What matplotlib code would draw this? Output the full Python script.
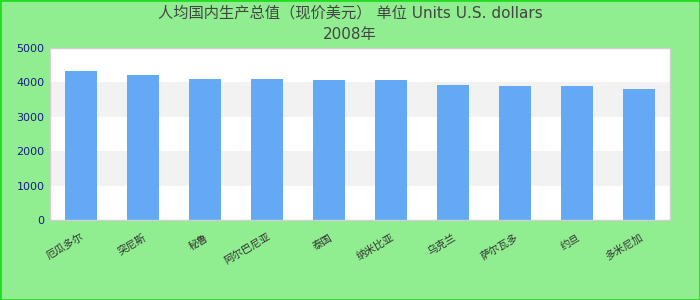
import numpy as np
import matplotlib
matplotlib.use('Agg')
import matplotlib.pyplot as plt

plt.rcParams['font.family'] = ['DejaVu Sans', 'Noto Sans CJK SC']

# data
countries = ['厄瓜多尔', '突尼斯', '秘鲁', '阿尔巴尼亚', '泰国',
             '纳米比亚', '乌克兰', '萨尔瓦多', '约旦', '多米尼加']
values = [4330, 4215, 4100, 4100, 4070, 4070, 3925, 3895, 3895, 3810]
yticks = [0, 1000, 2000, 3000, 4000, 5000]
title = '人均国内生产总值（现价美元） 单位 Units U.S. dollars\n2008年'

fig = plt.figure(figsize=(7, 3), dpi=100, facecolor='#90EE90')
ax = fig.add_axes([50/700, 1 - 220/300, 620/700, 172/300])
ax.set_facecolor('white')

# alternating bands
for i in range(len(yticks) - 1):
    if i % 2 == 1:
        ax.axhspan(yticks[i], yticks[i+1], color='#f2f2f2', zorder=0, lw=0)

x = np.arange(len(countries))
ax.bar(x, values, width=0.52, color='#63A9F4', zorder=2)

ax.set_xlim(-0.5, len(countries) - 0.5)
ax.set_ylim(0, 5000)
ax.set_yticks(yticks)
ax.set_yticklabels([str(v) for v in yticks], color='#1a1a8a', fontsize=8)
ax.tick_params(axis='y', length=0, pad=4)
ax.set_xticks(x)
ax.set_xticklabels(countries, rotation=30, ha='right', fontsize=7.5,
                   color='#333333', rotation_mode='anchor')
ax.tick_params(axis='x', length=0, pad=9)
for s in ax.spines.values():
    s.set_color('#d0d0d0')
    s.set_linewidth(1)

fig.text(0.5, 1 - 24/300, title, ha='center', va='center', fontsize=11,
         color='#444444', linespacing=1.5)

# figure border
fig.patches.append(plt.Rectangle((0, 0), 1, 1, transform=fig.transFigure,
                                 fill=False, edgecolor='#22dd22', lw=2))

fig.savefig('out.png', dpi=100, facecolor=fig.get_facecolor())
